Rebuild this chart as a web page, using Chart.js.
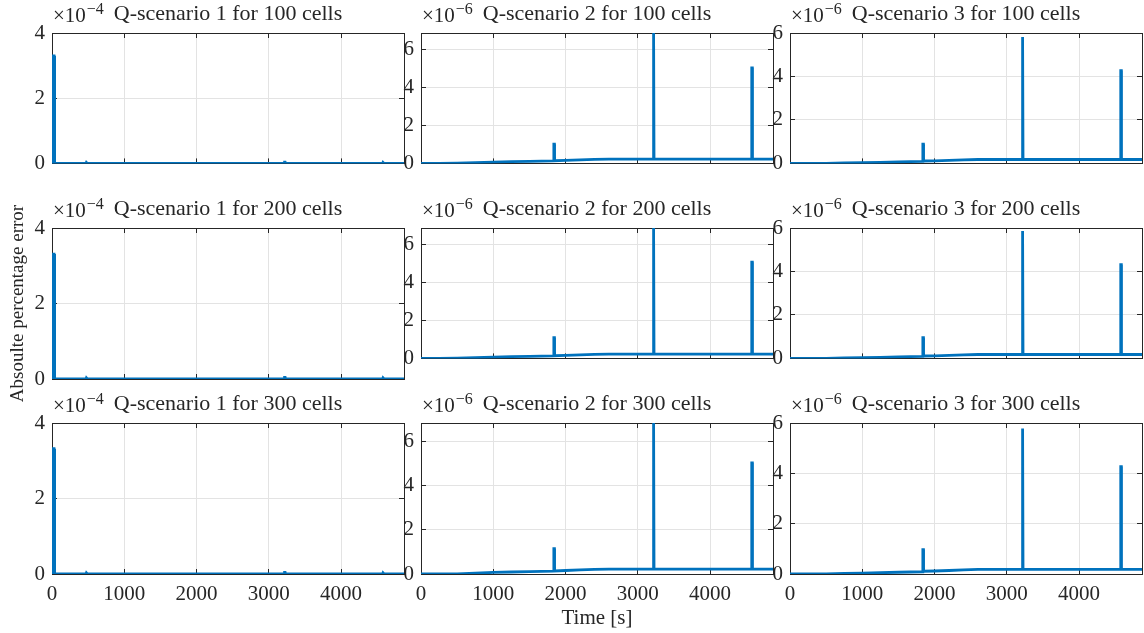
<!DOCTYPE html>
<html>
<head>
<meta charset="utf-8">
<script src="https://cdn.jsdelivr.net/npm/chart.js@4.4.1/dist/chart.umd.min.js"></script>
<style>
  html, body { margin: 0; padding: 0; width: 1144px; height: 633px; overflow: hidden; background: #fff; }
  canvas { position: absolute; }
</style>
</head>
<body>
<script>
// ---- data (values scaled by the axis exponent) ----
const cellCounts = [100, 200, 300];
const scenarioNames = ["Q-scenario 1", "Q-scenario 2", "Q-scenario 3"];
const colExponent = [4, 6, 6];          // shown as x10^-n
const yMaxByCol = [4, 6.86, 6];
const xMax = 4870;
const xTickValues = [0, 1000, 2000, 3000, 4000];
const yTickValuesByCol = [[0, 2, 4], [0, 2, 4, 6], [0, 2, 4, 6]];

// time samples [s]
const timeQ1 = [0, 10, 28, 36, 470, 476, 484, 490, 3212, 3218, 3226, 3232, 4574, 4580, 4588, 4594, 4870];
const timeQ23 = [0, 250, 500, 750, 1000, 1250, 1500, 1836, 1838, 1846, 1848, 2000, 2200, 2400, 2600, 3000,
  3212, 3214, 3222, 3224, 3600, 4000, 4574, 4576, 4584, 4586, 4870];

// scenario 1 (x1e-4)
const errQ1_100 = [0, 3.30, 3.30, 0, 0, 0.03, 0.03, 0, 0, 0.04, 0.04, 0, 0, 0.03, 0.03, 0, 0];
const errQ1_200 = [0, 3.31, 3.31, 0, 0, 0.03, 0.03, 0, 0, 0.04, 0.04, 0, 0, 0.03, 0.03, 0, 0];
const errQ1_300 = [0, 3.32, 3.32, 0, 0, 0.03, 0.03, 0, 0, 0.04, 0.04, 0, 0, 0.03, 0.03, 0, 0];

// scenario 2 (x1e-6)
const errQ2_100 = [0, 0, 0.01, 0.04, 0.07, 0.09, 0.11, 0.13, 1.01, 1.01, 0.14, 0.16, 0.19, 0.21, 0.22, 0.22,
  0.22, 6.86, 6.86, 0.22, 0.22, 0.22, 0.22, 5.03, 5.03, 0.22, 0.22];
const errQ2_200 = [0, 0, 0.01, 0.04, 0.07, 0.09, 0.11, 0.13, 1.09, 1.09, 0.14, 0.16, 0.19, 0.21, 0.22, 0.22,
  0.22, 6.86, 6.86, 0.22, 0.22, 0.22, 0.22, 5.06, 5.06, 0.22, 0.22];
const errQ2_300 = [0, 0, 0.01, 0.04, 0.07, 0.09, 0.11, 0.13, 1.15, 1.15, 0.14, 0.16, 0.19, 0.21, 0.22, 0.22,
  0.22, 6.86, 6.86, 0.22, 0.22, 0.22, 0.22, 5.05, 5.05, 0.22, 0.22];

// scenario 3 (x1e-6)
const errQ3_100 = [0, 0, 0, 0.02, 0.03, 0.05, 0.07, 0.09, 0.88, 0.88, 0.11, 0.12, 0.14, 0.16, 0.18, 0.18,
  0.18, 5.82, 5.82, 0.18, 0.18, 0.18, 0.18, 4.27, 4.27, 0.18, 0.18];
const errQ3_200 = [0, 0, 0, 0.02, 0.03, 0.05, 0.07, 0.09, 0.95, 0.95, 0.11, 0.12, 0.14, 0.16, 0.18, 0.18,
  0.18, 5.86, 5.86, 0.18, 0.18, 0.18, 0.18, 4.31, 4.31, 0.18, 0.18];
const errQ3_300 = [0, 0, 0, 0.02, 0.03, 0.05, 0.07, 0.09, 0.97, 0.97, 0.11, 0.12, 0.14, 0.16, 0.18, 0.18,
  0.18, 5.78, 5.78, 0.18, 0.18, 0.18, 0.18, 4.27, 4.27, 0.18, 0.18];

const timesByCol = [timeQ1, timeQ23, timeQ23];
const errorsByRow = [
  [errQ1_100, errQ2_100, errQ3_100],
  [errQ1_200, errQ2_200, errQ3_200],
  [errQ1_300, errQ2_300, errQ3_300],
];

// ---- layout / style ----
const colLeft = [52, 421, 790];
const rowTop = [33, 228, 423];
const plotW = 352, plotH = 151;
const sideW = 52, titleH = 33;
const lineColor = "#0072BD";
const axisColor = "#262626";
const gridColor = "#e3e3e3";
const fontFamily = '"Liberation Serif", "DejaVu Serif", serif';
const fontSize = 21;
const titleSize = 22;

// draws the "x10^-n" multiplier above the top-left corner
const exponentLabel = {
  id: "exponentLabel",
  afterDraw(chart, args, opts) {
    const { ctx, chartArea } = chart;
    const y = chartArea.top - 11;
    ctx.save();
    ctx.fillStyle = axisColor;
    ctx.textBaseline = "alphabetic";
    ctx.textAlign = "left";
    ctx.font = fontSize + "px " + fontFamily;
    ctx.fillText("\u00d710", chartArea.left + 1, y);
    const w = ctx.measureText("\u00d710").width;
    ctx.font = "16px " + fontFamily;
    ctx.fillText("\u2212" + opts.power, chartArea.left + 2 + w, y - 8);
    ctx.restore();
  },
};

function makePanel(r, c) {
  const xH = r === 2 ? 633 - (rowTop[2] + plotH) : 4;
  // the panel carrying the shared y title gets extra room above/below
  const ext = (r === 1 && c === 0) ? 120 : 0;
  const canvas = document.createElement("canvas");
  canvas.width = sideW * 2 + plotW;
  canvas.height = titleH + plotH + xH + ext * 2;
  canvas.style.left = (colLeft[c] - sideW) + "px";
  canvas.style.top = (rowTop[r] - titleH - ext) + "px";
  document.body.appendChild(canvas);

  const t = timesByCol[c];
  const e = errorsByRow[r][c];
  const points = t.map((x, i) => ({ x: x, y: e[i] }));
  const tickFont = { family: fontFamily, size: fontSize };
  const yTicks = yTickValuesByCol[c];

  new Chart(canvas.getContext("2d"), {
    type: "line",
    data: {
      datasets: [{
        data: points,
        borderColor: lineColor,
        borderWidth: 2.8,
        pointRadius: 0,
        tension: 0,
        fill: false,
        xAxisID: "x",
        yAxisID: "y",
      }],
    },
    options: {
      responsive: false,
      animation: false,
      events: [],
      layout: { padding: { top: ext, bottom: ext, left: 0, right: 0 } },
      plugins: {
        legend: { display: false },
        tooltip: { enabled: false },
        title: {
          display: true,
          text: scenarioNames[c] + " for " + cellCounts[r] + " cells",
          color: axisColor,
          font: { family: fontFamily, size: titleSize, weight: "normal", lineHeight: 25.2 / titleSize },
          padding: { top: 2, bottom: 5.8 },
        },
        exponentLabel: { power: colExponent[c] },
      },
      scales: {
        x: {
          type: "linear",
          axis: "x",
          position: "bottom",
          min: 0,
          max: xMax,
          afterBuildTicks: (s) => { s.ticks = xTickValues.map((v) => ({ value: v })); },
          ticks: {
            display: r === 2,
            padding: 13,
            color: axisColor,
            font: tickFont,
            maxRotation: 0,
            autoSkip: false,
            callback: (v) => String(v),
          },
          grid: { color: gridColor, tickColor: axisColor, tickLength: -5 },
          border: { color: axisColor, width: 1 },
          title: {
            display: r === 2 && c === 1,
            text: "Time [s]",
            color: axisColor,
            font: tickFont,
            padding: { top: 0, bottom: 2 },
          },
          afterFit: (s) => { s.height = xH; },
        },
        y: {
          type: "linear",
          axis: "y",
          position: "left",
          min: 0,
          max: yMaxByCol[c],
          afterBuildTicks: (s) => { s.ticks = yTicks.map((v) => ({ value: v })); },
          ticks: {
            padding: 12,
            color: axisColor,
            font: tickFont,
            autoSkip: false,
            callback: (v) => String(v),
          },
          grid: { color: gridColor, tickColor: axisColor, tickLength: -5 },
          border: { color: axisColor, width: 1 },
          title: {
            display: r === 1 && c === 0,
            text: "Absoulte percentage error",
            color: axisColor,
            font: { family: fontFamily, size: 19, lineHeight: 24 / 19 },
            padding: { top: 6, bottom: 0 },
          },
          afterFit: (s) => { s.width = sideW; },
        },
        x2: {
          type: "linear",
          axis: "x",
          position: "top",
          min: 0,
          max: xMax,
          afterBuildTicks: (s) => { s.ticks = xTickValues.map((v) => ({ value: v })); },
          ticks: { display: false },
          grid: { drawOnChartArea: false, tickColor: axisColor, tickLength: -5 },
          border: { color: axisColor, width: 1 },
          afterFit: (s) => { s.height = 0; },
        },
        y2: {
          type: "linear",
          axis: "y",
          position: "right",
          min: 0,
          max: yMaxByCol[c],
          afterBuildTicks: (s) => { s.ticks = yTicks.map((v) => ({ value: v })); },
          ticks: { display: false },
          grid: { drawOnChartArea: false, tickColor: axisColor, tickLength: -5 },
          border: { color: axisColor, width: 1 },
          afterFit: (s) => { s.width = sideW; },
        },
      },
    },
    plugins: [exponentLabel],
  });
}

for (let r = 0; r < 3; r++) {
  for (let c = 0; c < 3; c++) {
    makePanel(r, c);
  }
}
</script>
</body>
</html>
